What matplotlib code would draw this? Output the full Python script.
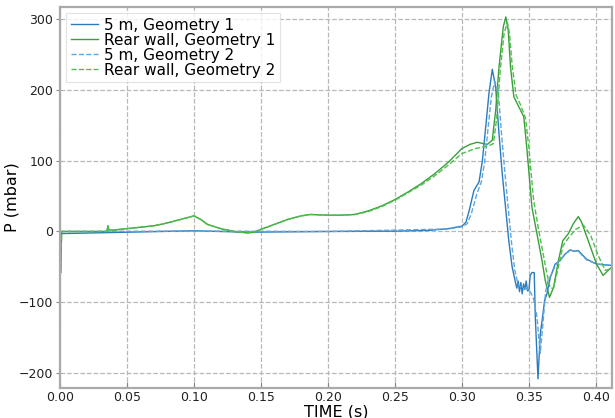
import numpy as np
import matplotlib
matplotlib.use('Agg')
import matplotlib.pyplot as plt

# 5 m, Geometry 1
t_b1 = [0, 0.0005, 0.10, 0.14, 0.20, 0.25, 0.275, 0.29, 0.30, 0.303, 0.3055, 0.309, 0.3128,
        0.3153, 0.3178, 0.3202, 0.3227, 0.3252, 0.3277, 0.3301, 0.3326, 0.335, 0.3375, 0.34,
        0.341, 0.342, 0.343, 0.344, 0.345, 0.346, 0.347, 0.348, 0.349, 0.35, 0.351, 0.3523,
        0.354, 0.3548, 0.3568, 0.3585, 0.3602, 0.3617, 0.3635, 0.366, 0.3696, 0.3733, 0.377,
        0.3807, 0.384, 0.3869, 0.393, 0.4005, 0.412]
p_b1 = [0, -3, 1, -1, 0, 0.5, 1.5, 4, 7.5, 13, 30, 58, 70,
        100, 148, 195, 229, 204, 138, 82, 34, -13, -50, -72,
        -80, -70, -85, -72, -88, -74, -82, -70, -84, -83, -62, -58,
        -58, -121, -208, -145, -121, -98, -88, -65, -46, -41, -32,
        -26, -28, -27, -39, -46, -48]

# Rear wall, Geometry 1
t_g1 = [0, 0.0005, 0.0012, 0.035, 0.0358, 0.0365, 0.04, 0.05, 0.06, 0.07, 0.08, 0.09, 0.10,
        0.105, 0.11, 0.12, 0.13, 0.14, 0.145, 0.15, 0.16, 0.17, 0.18, 0.187, 0.20, 0.21, 0.22,
        0.23, 0.24, 0.25, 0.26, 0.27, 0.28, 0.29, 0.30, 0.306, 0.3116, 0.316, 0.319, 0.3227,
        0.3252, 0.3277, 0.3309, 0.3328, 0.3346, 0.3363, 0.3388, 0.3425, 0.3462, 0.3486, 0.3523,
        0.356, 0.3598, 0.3622, 0.3654, 0.3684, 0.3721, 0.3753, 0.3795, 0.3832, 0.3869, 0.3894,
        0.3943, 0.4005, 0.4054, 0.412]
p_g1 = [0, -58, 0, 0, 8, 2, 2, 4, 6, 8, 12, 17, 22,
        17, 10, 4, 0, -2, -1, 3, 10, 17, 22, 24, 23, 23, 24,
        29, 36, 45, 56, 68, 82, 98, 117, 123, 126, 124, 123, 129,
        171, 232, 289, 303, 284, 232, 190, 176, 162, 115, 34,
        -3, -41, -69, -93, -79, -41, -13, -3, 11, 21, 13,
        -13, -46, -62, -50]

# 5 m, Geometry 2
t_b2 = [0, 0.10, 0.20, 0.29, 0.30, 0.304, 0.307, 0.311, 0.3145, 0.317, 0.3195, 0.322, 0.3245,
        0.327, 0.3295, 0.332, 0.3345, 0.337, 0.3395, 0.342, 0.345, 0.348, 0.351, 0.3535, 0.356,
        0.3585, 0.3605, 0.3625, 0.3645, 0.367, 0.37, 0.3733, 0.377, 0.3807, 0.3869, 0.393,
        0.4005, 0.412]
p_b2 = [0, 0.5, 0, 3.5, 6.5, 11, 25, 52, 70, 98, 145, 190, 212,
        200, 140, 85, 35, -15, -55, -75, -80, -80, -85, -95, -120,
        -172, -130, -85, -68, -60, -47, -40, -32, -27, -28, -40,
        -46, -48]

# Rear wall, Geometry 2
t_g2 = [0, 0.0005, 0.0012, 0.035, 0.0358, 0.0365, 0.04, 0.05, 0.06, 0.07, 0.08, 0.09, 0.10,
        0.105, 0.11, 0.12, 0.13, 0.14, 0.145, 0.15, 0.16, 0.17, 0.18, 0.187, 0.20, 0.21, 0.22,
        0.23, 0.24, 0.25, 0.26, 0.27, 0.28, 0.29, 0.30, 0.31, 0.32, 0.3235, 0.326, 0.3285,
        0.3315, 0.334, 0.3355, 0.3375, 0.3405, 0.344, 0.3475, 0.350, 0.3535, 0.357, 0.361,
        0.3635, 0.366, 0.3685, 0.372, 0.3755, 0.38, 0.385, 0.3907, 0.396, 0.402, 0.407, 0.412]
p_g2 = [0, -58, 0, 0, 8, 2, 2, 4, 6, 8, 12, 17, 22,
        17, 10, 4, 0, -2, -1, 3, 10, 17, 22, 24, 23, 23, 24,
        28, 35, 44, 55, 66, 79, 94, 110, 117, 121, 124, 160, 225,
        280, 295, 280, 235, 192, 178, 160, 118, 45, 5, -35,
        -60, -80, -80, -50, -20, -8, 3, 9, -5, -35, -55, -52]

xticks = [0.00, 0.05, 0.10, 0.15, 0.20, 0.25, 0.30, 0.35, 0.40]
yticks = [-200, -100, 0, 100, 200, 300]

fig = plt.figure(figsize=(6.15, 4.18), dpi=100)
ax = fig.add_axes([0.0976, 0.0718, 0.8974, 0.9115])

ax.plot(t_b1, p_b1, color='#2b7bbf', lw=1.0, label='5 m, Geometry 1')
ax.plot(t_g1, p_g1, color='#3a9f3a', lw=1.0, label='Rear wall, Geometry 1')
ax.plot(t_b2, p_b2, color='#5fa6dc', lw=1.0, ls='--', label='5 m, Geometry 2')
ax.plot(t_g2, p_g2, color='#4cbf4c', lw=1.0, ls='--', label='Rear wall, Geometry 2')

ax.set_xlim(0, 0.412)
ax.set_ylim(-221, 317)
ax.set_xticks(xticks)
ax.set_xticklabels(['%.2f' % v for v in xticks])
ax.set_yticks(yticks)

ax.grid(True, ls='--', color='#b8b8b8', lw=0.9)
for s in ax.spines.values():
    s.set_color('#aaaaaa')
    s.set_linewidth(1.6)
ax.tick_params(axis='x', direction='in', length=4, pad=2.5, color='#888888',
               labelsize=9, labelcolor='#222222')
ax.tick_params(axis='y', direction='out', length=3, pad=2, color='#888888',
               labelsize=9, labelcolor='#222222')

ax.set_xlabel('TIME (s)', fontsize=11.5, labelpad=0)
ax.set_ylabel('P (mbar)', fontsize=11.5)
ax.yaxis.set_label_coords(-0.073, 0.5)

leg = ax.legend(loc='upper left', fontsize=11, labelspacing=0, handlelength=1.8,
                handletextpad=0.4, borderaxespad=0.4, borderpad=0.3, fancybox=False)
leg.get_frame().set_edgecolor('#dddddd')
leg.get_frame().set_linewidth(0.8)

fig.savefig('out.png', dpi=100)
